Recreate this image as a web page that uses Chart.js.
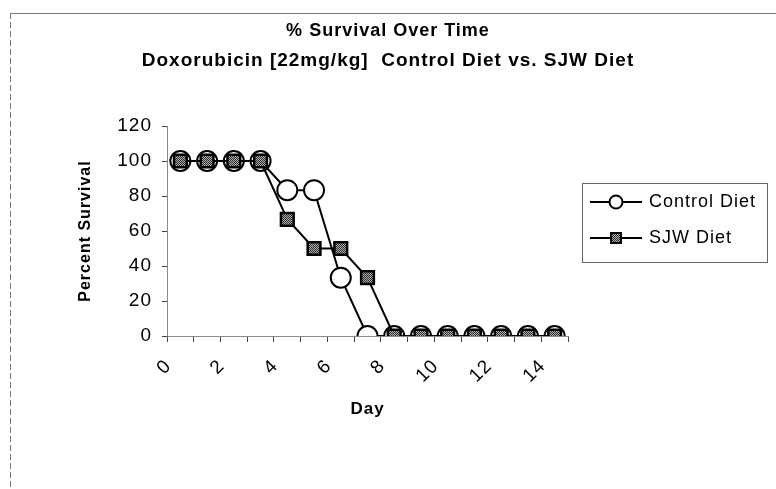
<!DOCTYPE html>
<html><head><meta charset="utf-8">
<script src="https://cdn.jsdelivr.net/npm/chart.js@4"></script>
<style>html,body{margin:0;padding:0;background:#fff;}#wrap{width:776px;height:489px;position:relative;}</style>
</head><body><div id="wrap"><canvas id="c" width="776" height="489"></canvas></div>
<script>
const days = ['0','1','2','3','4','5','6','7','8','9','10','11','12','13','14'];
const controlDiet = [100,100,100,100,83.3,83.3,33.3,0,0,0,0,0,0,0,0];
const sjwDiet = [100,100,100,100,66.7,50,50,33.3,0,0,0,0,0,0,0];
const yMin = 0, yMax = 120, yStep = 20;
const titleText = '% Survival Over Time';
const subtitleText = 'Doxorubicin [22mg/kg]  Control Diet vs. SJW Diet';
const seriesNames = ['Control Diet','SJW Diet'];
const xTitle = 'Day';
const yTitle = 'Percent Survival';

const FONT = '"Liberation Sans", Arial, sans-serif';
const canvas = document.getElementById('c');
const ctx0 = canvas.getContext('2d');

function makePattern(){
  const p = document.createElement('canvas'); p.width = 2; p.height = 2;
  const g = p.getContext('2d');
  g.fillStyle = '#b0b0b0'; g.fillRect(0,0,2,2);
  g.fillStyle = '#2a2a2a'; g.fillRect(0,0,1,1); g.fillRect(1,1,1,1);
  return ctx0.createPattern(p,'repeat');
}
const sjwFill = makePattern();

function spacing(chart){ if ('letterSpacing' in chart.ctx) chart.ctx.letterSpacing = '1px'; }

const framePlugin = {
  id:'frame',
  beforeUpdate(chart){ spacing(chart); },
  beforeLayout(chart){ spacing(chart); },
  beforeDraw(chart){
    spacing(chart);
    const c = chart.ctx;
    c.save();
    c.fillStyle = '#fff'; c.fillRect(0,0,chart.width,chart.height);
    c.strokeStyle = '#777'; c.lineWidth = 1;
    c.beginPath(); c.moveTo(10,13.5); c.lineTo(776,13.5); c.stroke();
    c.setLineDash([6,3]);
    c.beginPath(); c.moveTo(10.5,13); c.lineTo(10.5,489); c.stroke();
    c.restore();
  }
};

const legendPlugin = {
  id:'customLegend',
  afterDraw(chart){
    const c = chart.ctx;
    c.save();
    spacing(chart);
    c.strokeStyle = '#666'; c.lineWidth = 1;
    c.strokeRect(582.5,183.5,185,79);
    const ys = [202, 238];
    chart.data.datasets.forEach((ds,i)=>{
      const y = ys[i];
      c.strokeStyle = '#000'; c.lineWidth = 2;
      c.beginPath(); c.moveTo(590,y); c.lineTo(642,y); c.stroke();
      c.fillStyle = ds.pointBackgroundColor; c.strokeStyle = '#000'; c.lineWidth = 2;
      Chart.helpers.drawPoint(c,{pointStyle:ds.pointStyle,radius:i===0?6.5:7,borderWidth:2,rotation:0},616,y);
      c.fillStyle = '#000';
      c.font = '18px ' + FONT;
      c.textBaseline = 'middle'; c.textAlign = 'left';
      c.fillText(ds.label, 649, y);
    });
    c.restore();
  }
};

new Chart(canvas,{
  type:'line',
  data:{
    labels: days,
    datasets:[
      {label:seriesNames[0], data:controlDiet, borderColor:'#000', borderWidth:2, tension:0,
       pointStyle:'circle', pointRadius:10, pointBorderWidth:2, pointBackgroundColor:'#fff', pointBorderColor:'#000', order:2},
      {label:seriesNames[1], data:sjwDiet, borderColor:'#000', borderWidth:2, tension:0,
       pointStyle:'rect', pointRadius:9, pointBorderWidth:2.5, pointBackgroundColor:sjwFill, pointBorderColor:'#000', order:1}
    ]
  },
  options:{
    responsive:false, animation:false, devicePixelRatio:1,
    layout:{padding:{left:0,right:0,top:0,bottom:69}},
    plugins:{
      legend:{display:false},
      tooltip:{enabled:false},
      title:{display:true, text:titleText, color:'#000',
        font:{family:FONT, size:18, weight:'bold', lineHeight:'30px'},
        padding:{top:16,bottom:0}},
      subtitle:{display:true, text:subtitleText, color:'#000',
        font:{family:FONT, size:19, weight:'bold', lineHeight:'30px'},
        padding:{top:0,bottom:50}}
    },
    scales:{
      x:{type:'category', offset:true,
        grid:{display:true, drawOnChartArea:false, drawTicks:true, tickLength:6, offset:true, color:'#444'},
        border:{display:true, color:'#888', width:1},
        ticks:{autoSkip:false, minRotation:45, maxRotation:45, color:'#000', padding:13, labelOffset:-12,
          font:{family:FONT, size:19},
          callback:(v,i)=> i%2===0 ? days[i] : ''},
        title:{display:true, text:xTitle, color:'#000', font:{family:FONT,size:17,weight:'bold'}, padding:0},
        afterFit(s){ s.height = 84; }
      },
      y:{min:yMin, max:yMax, position:'left',
        grid:{display:true, drawOnChartArea:false, drawTicks:true, tickLength:5, color:'#444'},
        border:{display:true, color:'#888', width:1},
        ticks:{stepSize:yStep, color:'#000', padding:10, font:{family:FONT,size:19}},
        title:{display:true, text:yTitle, color:'#000', font:{family:FONT,size:16,weight:'bold'}, padding:{top:76,bottom:0}},
        afterFit(s){ s.width = 167; }
      },
      yRightSpace:{position:'right', display:true,
        grid:{display:false}, border:{display:false}, ticks:{display:false},
        afterFit(s){ s.width = 208; }
      }
    }
  },
  plugins:[framePlugin, legendPlugin]
});
</script></body></html>
